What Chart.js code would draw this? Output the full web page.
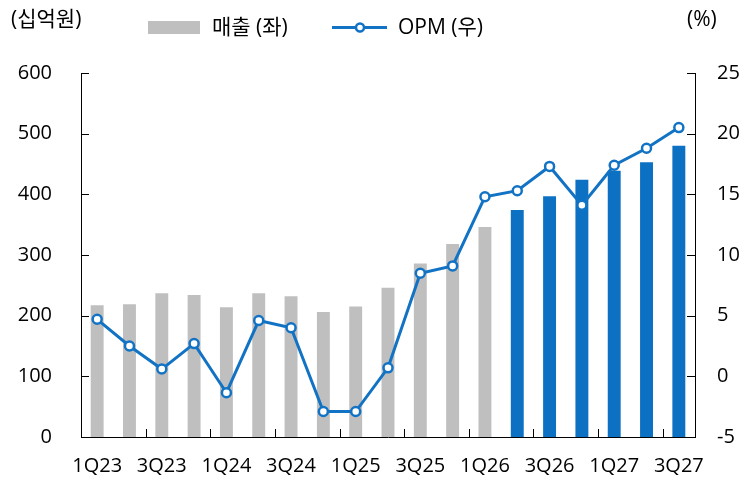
<!DOCTYPE html>
<html>
<head>
<meta charset="utf-8">
<script src="https://cdn.jsdelivr.net/npm/chart.js@4"></script>
<style>
  body { margin: 0; background: #fff; }
  #wrap { width: 749px; height: 480px; position: relative; }
</style>
</head>
<body>
<div id="wrap"><canvas id="chart"></canvas></div>
<script>
// quarters
const quarters = ['1Q23','2Q23','3Q23','4Q23','1Q24','2Q24','3Q24','4Q24','1Q25','2Q25','3Q25','4Q25',
                  '1Q26','2Q26','3Q26','4Q26','1Q27','2Q27','3Q27'];
// 매출 (십억원)
const sales = [217, 219, 237, 234, 214, 237, 232, 206, 215, 246, 286, 318, 346, 374, 397, 424, 439, 453, 480];
// OPM (%)
const opm = [4.7, 2.5, 0.6, 2.7, -1.35, 4.6, 4.0, -2.9, -2.9, 0.7, 8.5, 9.1, 14.8, 15.3, 17.3, 14.1, 17.4, 18.8, 20.5];
// estimates start here (blue bars)
const firstEstimate = '2Q26';

const leftTicks = [0, 100, 200, 300, 400, 500, 600];
const rightTicks = [-5, 0, 5, 10, 15, 20, 25];

const GRAY = '#bfbfbf';
const BLUE = '#0c70c3';
const LINE = '#1273c4';
const FONT = "'Open Sans', 'Noto Sans CJK KR', sans-serif";
const estIdx = quarters.indexOf(firstEstimate);

// Legend, units and inward tick marks
const extras = {
  id: 'extras',
  afterDraw(chart) {
    const ctx = chart.ctx;
    const x = chart.scales.x, yl = chart.scales.y, yr = chart.scales.y1;
    ctx.save();
    ctx.strokeStyle = '#000';
    ctx.lineWidth = 1;
    ctx.beginPath();
    leftTicks.forEach(v => {
      const p = Math.round(yl.getPixelForValue(v)) + 0.5;
      ctx.moveTo(x.left, p); ctx.lineTo(x.left + 8, p);
    });
    rightTicks.forEach(v => {
      const p = Math.round(yr.getPixelForValue(v)) + 0.5;
      ctx.moveTo(x.right, p); ctx.lineTo(x.right - 8, p);
    });
    const step = (x.right - x.left) / quarters.length;
    for (let k = 2; k < quarters.length; k += 2) {
      const p = Math.round(x.left + step * k) + 0.5;
      ctx.moveTo(p, yl.bottom); ctx.lineTo(p, yl.bottom - 8);
    }
    ctx.stroke();

    ctx.fillStyle = '#000';
    ctx.font = '21px ' + FONT;
    ctx.textBaseline = 'middle';
    ctx.textAlign = 'left';
    ctx.fillText('(십억원)', 11, 20);
    ctx.fillText('(%)', 687, 20);

    // legend
    ctx.fillStyle = GRAY;
    ctx.fillRect(148, 21, 52, 13);
    ctx.fillStyle = '#000';
    ctx.fillText('매출 (좌)', 212, 28);
    ctx.strokeStyle = LINE;
    ctx.lineWidth = 3;
    ctx.beginPath();
    ctx.moveTo(332, 27.5); ctx.lineTo(387, 27.5);
    ctx.stroke();
    ctx.beginPath();
    ctx.arc(360, 27.5, 4, 0, Math.PI * 2);
    ctx.fillStyle = '#fff';
    ctx.fill();
    ctx.lineWidth = 2.5;
    ctx.stroke();
    ctx.fillStyle = '#000';
    ctx.fillText('OPM (우)', 398, 28);
    ctx.restore();
  }
};

new Chart(document.getElementById('chart'), {
  data: {
    labels: quarters,
    datasets: [{
      type: 'line',
      label: 'OPM (우)',
      data: opm,
      yAxisID: 'y1',
      borderColor: LINE,
      borderWidth: 3,
      pointRadius: 4.5,
      pointBorderWidth: 2.5,
      pointBackgroundColor: '#fff',
      pointBorderColor: LINE,
      tension: 0,
      order: 0
    }, {
      type: 'bar',
      label: '매출 (좌)',
      data: sales,
      yAxisID: 'y',
      backgroundColor: quarters.map((q, i) => i >= estIdx ? BLUE : GRAY),
      barPercentage: 0.4,
      categoryPercentage: 1,
      order: 1
    }]
  },
  options: {
    responsive: true,
    maintainAspectRatio: false,
    animation: false,
    layout: { padding: { top: 73 } },
    plugins: { legend: { display: false }, tooltip: { enabled: false } },
    scales: {
      x: {
        grid: { display: false, drawTicks: false },
        border: { display: true, color: '#000', width: 1 },
        ticks: {
          autoSkip: false, maxRotation: 0, padding: 17,
          color: '#000', font: { family: FONT, size: 20 },
          callback: (v, i) => i % 2 === 0 ? quarters[i] : ''
        },
        afterFit(s) { s.height = 43; }
      },
      y: {
        position: 'left',
        min: 0, max: 600,
        grid: { display: false, drawTicks: false },
        border: { display: true, color: '#000', width: 1 },
        ticks: { stepSize: 100, padding: 29, color: '#000', font: { family: FONT, size: 20 } },
        afterFit(s) { s.width = 81; }
      },
      y1: {
        position: 'right',
        min: -5, max: 25,
        grid: { display: false, drawTicks: false },
        border: { display: true, color: '#000', width: 1 },
        ticks: { stepSize: 5, padding: 22, color: '#000', font: { family: FONT, size: 20 } },
        afterFit(s) { s.width = 54; }
      }
    }
  },
  plugins: [extras]
});
</script>
</body>
</html>
